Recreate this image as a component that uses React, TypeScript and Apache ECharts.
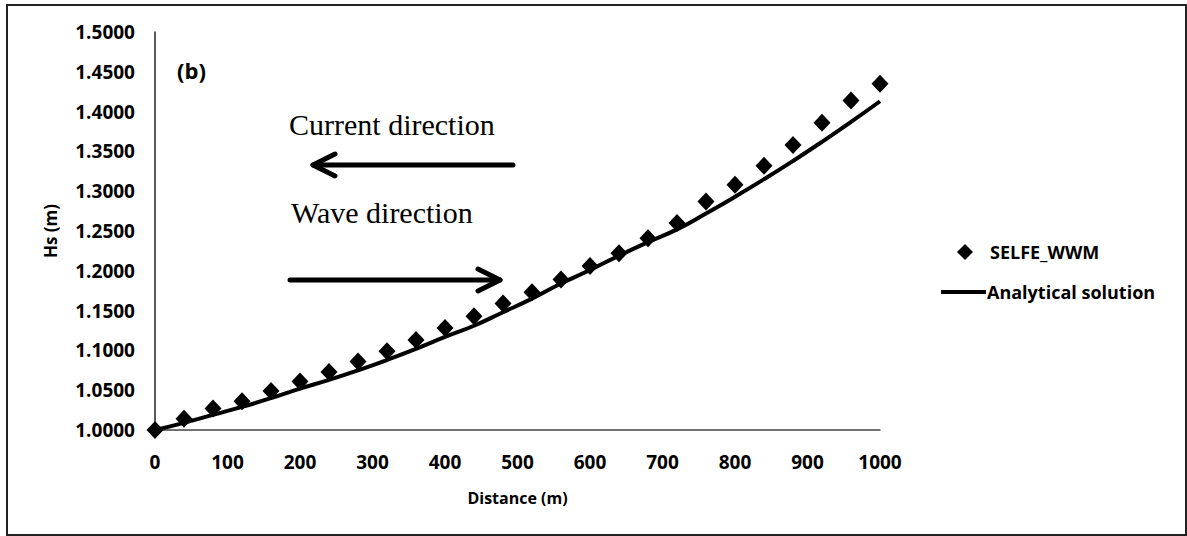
import React, { useEffect, useRef } from "react";
import * as echarts from "echarts";

// Distance along the channel (m)
const distances = [
  0, 40, 80, 120, 160, 200, 240, 280, 320, 360, 400, 440, 480, 520, 560, 600,
  640, 680, 720, 760, 800, 840, 880, 920, 960, 1000,
];

// Significant wave height from the SELFE_WWM model (m)
const selfeWwm = [
  1.0, 1.014, 1.027, 1.036, 1.049, 1.061, 1.073, 1.086, 1.099, 1.113, 1.128,
  1.143, 1.159, 1.173, 1.189, 1.206, 1.222, 1.241, 1.26, 1.287, 1.308, 1.332,
  1.358, 1.386, 1.414, 1.435,
];

// Significant wave height from the analytical solution (m)
const analytical = [
  1.0, 1.009, 1.019, 1.029, 1.04, 1.052, 1.063, 1.075, 1.088, 1.102, 1.117,
  1.131, 1.148, 1.165, 1.184, 1.201, 1.219, 1.236, 1.252, 1.272, 1.293, 1.315,
  1.338, 1.362, 1.387, 1.413,
];

const seriesNames = ["SELFE_WWM", "Analytical solution"];

const SANS = "'Open Sans', 'DejaVu Sans', sans-serif";
const SERIF = "'Liberation Serif', 'DejaVu Serif', serif";

export default function App() {
  const ref = useRef<HTMLDivElement>(null);

  useEffect(() => {
    document.body.style.margin = "0";
    if (!ref.current) return;
    const chart = echarts.init(ref.current, undefined, { renderer: "svg" });

    const arrowStyle = {
      stroke: "#000",
      lineWidth: 5,
      lineCap: "round",
      lineJoin: "round",
      fill: "none",
    };

    chart.setOption({
      animation: false,
      backgroundColor: "#fff",
      grid: { left: 155, right: 307, top: 32, bottom: 106 },
      xAxis: {
        type: "value",
        min: 0,
        max: 1000,
        interval: 100,
        name: "Distance (m)",
        nameLocation: "middle",
        nameGap: 60,
        nameTextStyle: { fontFamily: SANS, fontWeight: 700, fontSize: 16, color: "#000" },
        axisLine: { show: true, lineStyle: { color: "#444", width: 1.5 } },
        axisTick: { show: false },
        splitLine: { show: false },
        axisLabel: {
          fontFamily: SANS,
          fontWeight: 700,
          fontSize: 19,
          color: "#000",
          margin: 22,
          formatter: (v: number) => String(v),
        },
      },
      yAxis: {
        type: "value",
        min: 1,
        max: 1.5,
        interval: 0.05,
        name: "Hs (m)",
        nameLocation: "middle",
        nameGap: 96,
        nameTextStyle: { fontFamily: SANS, fontWeight: 700, fontSize: 17, color: "#000" },
        axisLine: { show: true, lineStyle: { color: "#222", width: 1.5 } },
        axisTick: { show: false },
        splitLine: { show: false },
        axisLabel: {
          fontFamily: SANS,
          fontWeight: 700,
          fontSize: 19,
          color: "#000",
          margin: 20,
          formatter: (v: number) => v.toFixed(4),
        },
      },
      series: [
        {
          name: seriesNames[1],
          type: "line",
          data: distances.map((d, i) => [d, analytical[i]]),
          smooth: true,
          showSymbol: false,
          lineStyle: { color: "#000", width: 4 },
          z: 2,
        },
        {
          name: seriesNames[0],
          type: "scatter",
          data: distances.map((d, i) => [d, selfeWwm[i]]),
          symbol: "diamond",
          symbolSize: [17, 18],
          itemStyle: { color: "#000", opacity: 1 },
          z: 3,
        },
      ],
      graphic: [
        // outer frame
        {
          type: "rect",
          shape: { x: 7, y: 5, width: 1179, height: 530 },
          style: { fill: "none", stroke: "#222", lineWidth: 2 },
          silent: true,
        },
        // panel tag
        {
          type: "text",
          x: 177,
          y: 70,
          style: {
            text: "(b)",
            font: `700 22px ${SANS}`,
            fill: "#000",
            verticalAlign: "middle",
          },
        },
        // current direction annotation
        {
          type: "text",
          x: 289,
          y: 124,
          style: {
            text: "Current direction",
            font: `400 30px ${SERIF}`,
            fill: "#000",
            verticalAlign: "middle",
          },
        },
        {
          type: "line",
          shape: { x1: 313, y1: 165, x2: 513, y2: 165 },
          style: arrowStyle,
        },
        {
          type: "polyline",
          shape: { points: [[335, 154], [313, 165], [335, 176]] },
          style: arrowStyle,
        },
        // wave direction annotation
        {
          type: "text",
          x: 291,
          y: 212,
          style: {
            text: "Wave direction",
            font: `400 30px ${SERIF}`,
            fill: "#000",
            verticalAlign: "middle",
          },
        },
        {
          type: "line",
          shape: { x1: 290, y1: 280, x2: 500, y2: 280 },
          style: arrowStyle,
        },
        {
          type: "polyline",
          shape: { points: [[478, 269], [500, 280], [478, 291]] },
          style: arrowStyle,
        },
        // legend
        {
          type: "polygon",
          shape: { points: [[965, 244], [973, 252], [965, 260], [957, 252]] },
          style: { fill: "#000" },
        },
        {
          type: "text",
          x: 990,
          y: 252,
          style: {
            text: seriesNames[0],
            font: `700 18px ${SANS}`,
            fill: "#000",
            verticalAlign: "middle",
          },
        },
        {
          type: "line",
          shape: { x1: 941, y1: 292, x2: 986, y2: 292 },
          style: { stroke: "#000", lineWidth: 4 },
        },
        {
          type: "text",
          x: 987,
          y: 292,
          style: {
            text: seriesNames[1],
            font: `700 18px ${SANS}`,
            fill: "#000",
            verticalAlign: "middle",
          },
        },
      ],
    });

    return () => chart.dispose();
  }, []);

  return <div ref={ref} style={{ width: 1187, height: 536 }} />;
}
